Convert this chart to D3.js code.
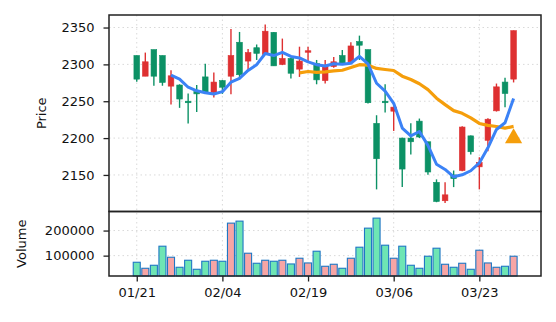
<!DOCTYPE html>
<html>
<head>
<meta charset="utf-8">
<script src="https://cdn.jsdelivr.net/npm/d3@7"></script>
<style>
  body { margin: 0; background: #fff; }
  svg { font-family: "DejaVu Sans", sans-serif; }
</style>
</head>
<body>
<div id="chart"></div>
<script>
// daily bars (red = up, green = down)
var opens  = [2312, 2284, 2320, 2312, 2270.5, 2272, 2250, 2263, 2283, 2262,
              2278, 2284, 2330, 2304.5, 2322.6, 2313.6, 2343.5, 2300, 2308, 2293.6,
              2317, 2301, 2278, 2297, 2312, 2303.5, 2331, 2320, 2220, 2250,
              2236.5, 2200, 2200, 2223, 2195, 2140, 2115, 2150, 2156, 2203,
              2161, 2197, 2237, 2276, 2280];
var highs  = [2312, 2316, 2320, 2312, 2292, 2273, 2260.5, 2272, 2301, 2289,
              2279, 2348, 2344, 2321, 2327, 2354, 2344, 2335, 2308.5, 2324,
              2324, 2306, 2306, 2310, 2319.5, 2330, 2339, 2320, 2231, 2273,
              2243, 2200.5, 2220, 2226.5, 2195, 2144, 2140, 2156, 2216, 2203.5,
              2174, 2227, 2274, 2282, 2346];
var lows   = [2276.3, 2284, 2271, 2271, 2245.6, 2241, 2219.7, 2235.5, 2260, 2255,
              2260, 2259.6, 2280, 2292, 2306, 2313, 2298, 2299, 2281, 2283,
              2303.5, 2273, 2274, 2295.4, 2300, 2302, 2306, 2247, 2130.4, 2234.7,
              2209.7, 2133.5, 2177.6, 2200, 2150.3, 2113, 2112, 2133.5, 2155, 2177.6,
              2130.4, 2182, 2236, 2242, 2275.5];
var closes = [2280, 2303.5, 2284, 2275.5, 2284.5, 2253, 2248, 2260, 2262, 2276,
              2269, 2312, 2286, 2316, 2315, 2345, 2298, 2308, 2288, 2304.5,
              2318.5, 2279, 2299, 2303.5, 2301, 2325, 2326, 2248, 2172, 2248,
              2242, 2158, 2195, 2201.5, 2154, 2114, 2123, 2145, 2215, 2181.5,
              2167, 2225.6, 2269.5, 2260.5, 2345.7];
var volumes = [73600, 49600, 61600, 137600, 93600, 53600, 81600, 45600, 77600, 81600,
               77600, 229600, 237600, 109600, 69600, 81600, 77600, 81600, 66800, 89600,
               70800, 117600, 57600, 65600, 49600, 89600, 133600, 209600, 249600, 141600,
               89600, 137600, 61600, 49600, 97600, 129600, 65600, 53600, 69600, 45600,
               121600, 70800, 53600, 57600, 97600];

var tickIdx = [0, 10, 20, 30, 40];
var tickLabels = ["01/21", "02/04", "02/19", "03/06", "03/23"];
var priceTicks = [2150, 2200, 2250, 2300, 2350];
var volTicks = [100000, 200000];

// buy signal marker
var signalIdx = [44];
var signalPrice = [2203];

var width = 556, height = 322;
var pLeft = 109, pRight = 541, pTop = 15, pMid = 211.5, pBottom = 276;

var svg = d3.select("#chart").append("svg").attr("width", width).attr("height", height);

var n = closes.length;
var x = d3.scaleLinear().domain([-3.24, 47.2]).range([pLeft, pRight]);
var yP = d3.scaleLinear().domain([2100.4, 2367]).range([pMid, pTop]);
var yV = d3.scaleLinear().domain([18800, 276000]).range([pBottom, pMid]);
var step = x(1) - x(0);

// rolling means of the closes
function sma(k) {
    var out = [];
    for (var i = k - 1; i < n; i++) {
        out.push({ i: i, v: d3.mean(closes.slice(i - k + 1, i + 1)) });
    }
    return out;
}

var up = function(i) { return closes[i] >= opens[i]; };

// grid
var grid = svg.append("g").attr("stroke", "#d9d9d9").attr("stroke-width", 1).attr("stroke-dasharray", "1.5,3");
grid.selectAll(".gx").data(tickIdx).enter().append("line")
    .attr("x1", d => x(d)).attr("x2", d => x(d)).attr("y1", pTop).attr("y2", pBottom);
grid.selectAll(".gp").data(priceTicks).enter().append("line")
    .attr("x1", pLeft).attr("x2", pRight).attr("y1", d => yP(d)).attr("y2", d => yP(d));
grid.selectAll(".gv").data(volTicks).enter().append("line")
    .attr("x1", pLeft).attr("x2", pRight).attr("y1", d => yV(d)).attr("y2", d => yV(d));

var idx = d3.range(n);

// candles
var redC = "#de3031", greenC = "#0c9165";
svg.append("g").selectAll("line").data(idx).enter().append("line")
    .attr("x1", d => x(d)).attr("x2", d => x(d))
    .attr("y1", d => yP(highs[d])).attr("y2", d => yP(lows[d]))
    .attr("stroke", d => up(d) ? redC : greenC).attr("stroke-width", 1.4);
svg.append("g").selectAll("rect").data(idx).enter().append("rect")
    .attr("x", d => x(d) - step * 0.33)
    .attr("width", step * 0.66)
    .attr("y", d => yP(Math.max(opens[d], closes[d])))
    .attr("height", d => Math.max(1.5, Math.abs(yP(opens[d]) - yP(closes[d]))))
    .attr("fill", d => up(d) ? redC : greenC)
    .attr("stroke", d => up(d) ? redC : greenC).attr("stroke-width", 0.6);

// moving averages
var line = d3.line().x(d => x(d.i)).y(d => yP(d.v));
svg.append("path").datum(sma(20)).attr("d", line)
    .attr("fill", "none").attr("stroke", "#f59e0b").attr("stroke-width", 3.2).attr("stroke-linejoin", "round");
svg.append("path").datum(sma(5)).attr("d", line)
    .attr("fill", "none").attr("stroke", "#3b82f6").attr("stroke-width", 3).attr("stroke-linejoin", "round");

// signal triangle
svg.append("g").selectAll("path").data(signalIdx).enter().append("path")
    .attr("d", d3.symbol(d3.symbolTriangle, 128))
    .attr("transform", (d, k) => "translate(" + x(d) + "," + (yP(signalPrice[k]) + 2.4) + ")")
    .attr("fill", "#f59e0b");

// volume bars
svg.append("g").selectAll("rect").data(idx).enter().append("rect")
    .attr("x", d => x(d) - step * 0.41)
    .attr("width", step * 0.82)
    .attr("y", d => yV(volumes[d]))
    .attr("height", d => pBottom - yV(volumes[d]))
    .attr("fill", d => up(d) ? "#f7a5a5" : "#6ee5b4")
    .attr("stroke", "#1f77c4").attr("stroke-width", 1.1);

// frames
svg.append("rect").attr("x", pLeft).attr("y", pTop).attr("width", pRight - pLeft).attr("height", pMid - pTop)
    .attr("fill", "none").attr("stroke", "#222").attr("stroke-width", 1.5);
svg.append("rect").attr("x", pLeft).attr("y", pMid).attr("width", pRight - pLeft).attr("height", pBottom - pMid)
    .attr("fill", "none").attr("stroke", "#222").attr("stroke-width", 1.5);

// axes
var pAxis = svg.append("g").attr("transform", "translate(" + pLeft + ",0)")
    .call(d3.axisLeft(yP).tickValues(priceTicks).tickFormat(d3.format("d")).tickSize(5.5).tickPadding(9));
var vAxis = svg.append("g").attr("transform", "translate(" + pLeft + ",0)")
    .call(d3.axisLeft(yV).tickValues(volTicks).tickFormat(d3.format("d")).tickSize(5.5).tickPadding(9));
var xAxis = svg.append("g").attr("transform", "translate(0," + pBottom + ")")
    .call(d3.axisBottom(x).tickValues(tickIdx).tickFormat((d, k) => tickLabels[k]).tickSize(5.5).tickPadding(6));

[pAxis, vAxis, xAxis].forEach(function(a) {
    a.select(".domain").remove();
    a.selectAll("line").attr("stroke", "#222").attr("stroke-width", 1.3);
    a.selectAll("text").attr("fill", "#111").style("font-size", "13px").style("font-family", "DejaVu Sans");
});

svg.append("text").attr("transform", "translate(46," + ((pTop + pMid) / 2) + ") rotate(-90)")
    .attr("text-anchor", "middle").style("font-size", "13px").attr("fill", "#111").text("Price");
svg.append("text").attr("transform", "translate(26," + ((pMid + pBottom) / 2) + ") rotate(-90)")
    .attr("text-anchor", "middle").style("font-size", "13px").attr("fill", "#111").text("Volume");
</script>
</body>
</html>
